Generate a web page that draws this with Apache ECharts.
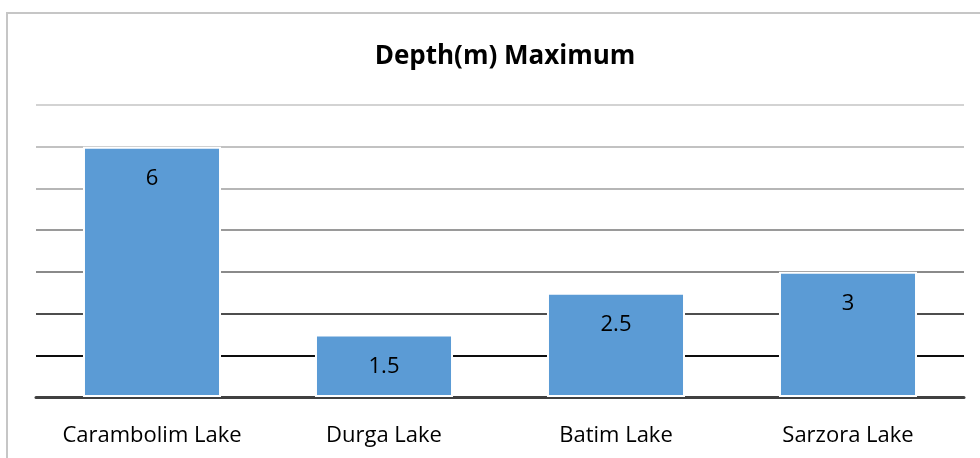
<!DOCTYPE html>
<html>
<head>
<meta charset="utf-8">
<script src="https://cdn.jsdelivr.net/npm/echarts@6/dist/echarts.min.js"></script>
<style>
  html, body { margin: 0; padding: 0; background: #ffffff; }
  #frame { position: absolute; left: 6px; top: 12px; width: 980px; height: 460px;
           border: 2px solid #c6c6c6; box-sizing: border-box; }
  #chart { position: absolute; left: 0; top: 0; width: 980px; height: 458px; }
</style>
</head>
<body>
<div id="frame"></div>
<div id="chart"></div>
<script>
// Maximum depth of each lake, in metres
const lakes = ['Carambolim Lake', 'Durga Lake', 'Batim Lake', 'Sarzora Lake'];
const maxDepth = [6, 1.5, 2.5, 3];
const titleText = 'Depth(m) Maximum';

// Gridline shades, from value 0 upward (dark near the base, fading to light at the top)
const gridShades = ['#404040', '#0d0d0d', '#4d4d4d', '#8a8a8a', '#9a9a9a', '#b6b6b6', '#c2c2c2', '#d3d3d3'];

const chart = echarts.init(document.getElementById('chart'), null, { renderer: 'canvas' });
chart.setOption({
  animation: false,
  title: {
    text: titleText,
    left: 500, top: 39, textAlign: 'center',
    textStyle: { fontFamily: 'Open Sans', fontWeight: 'bold', fontSize: 26, color: '#000000' }
  },
  grid: { left: 36, right: 16, top: 105, bottom: 61, containLabel: false },
  xAxis: {
    type: 'category',
    data: lakes,
    axisTick: { show: false },
    axisLine: { show: true, lineStyle: { color: '#404040', width: 3 } },
    axisLabel: { interval: 0, margin: 28, fontFamily: 'Open Sans', fontSize: 22, color: '#000000' }
  },
  yAxis: {
    type: 'value',
    min: 0, max: 7, interval: 1,
    axisLabel: { show: false },
    axisLine: { show: false },
    axisTick: { show: false },
    splitLine: { show: true, lineStyle: { color: gridShades, width: 2 } }
  },
  series: [{
    type: 'bar',
    data: maxDepth,
    barWidth: '59.5%',
    itemStyle: { color: '#5b9bd5', borderColor: '#ffffff', borderWidth: 2 },
    label: {
      show: true, position: 'insideTop', distance: 21,
      fontFamily: 'Open Sans', fontSize: 22, color: '#000000'
    }
  }]
});
</script>
</body>
</html>
